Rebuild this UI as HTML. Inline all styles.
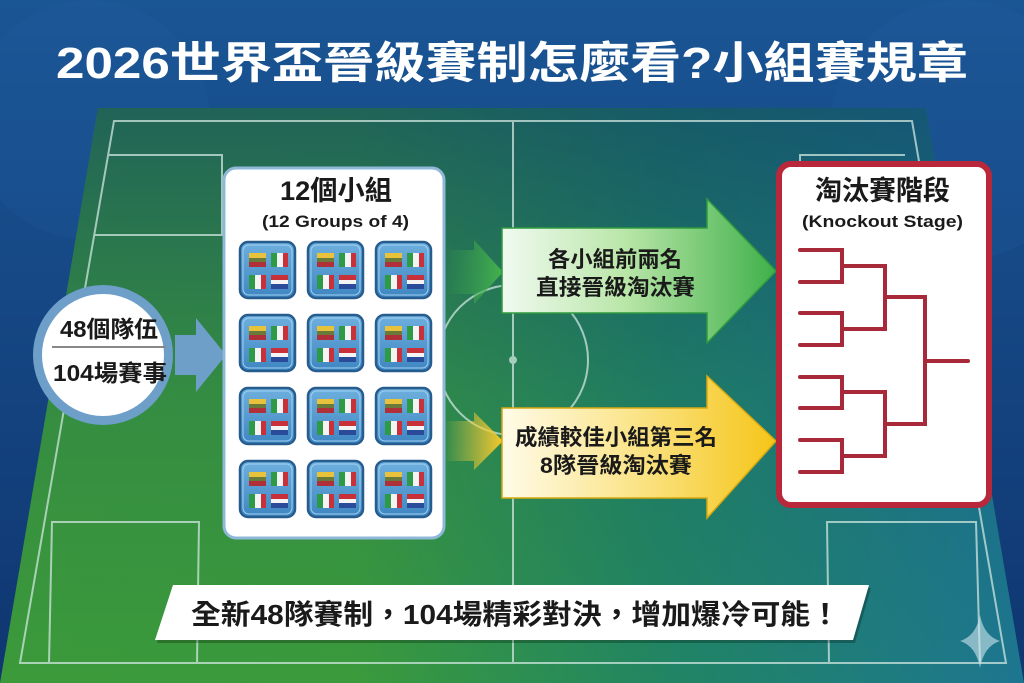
<!DOCTYPE html>
<html><head><meta charset="utf-8">
<style>
html,body{margin:0;padding:0;width:1024px;height:683px;overflow:hidden;background:#14437f}
svg{display:block}
text{font-family:"Liberation Sans","Noto Sans CJK TC",sans-serif;font-weight:bold}
</style></head>
<body>
<svg width="1024" height="683" viewBox="0 0 1024 683" xmlns="http://www.w3.org/2000/svg">
<defs>
<linearGradient id="bg" x1="0" y1="0" x2="0" y2="1">
<stop offset="0" stop-color="#1a5594"/><stop offset="1" stop-color="#0f3670"/></linearGradient>
<linearGradient id="pitchH" x1="0" y1="0" x2="1" y2="0">
<stop offset="0" stop-color="#3c9a3a"/><stop offset="0.35" stop-color="#3a9a3c"/><stop offset="0.65" stop-color="#218563"/><stop offset="1" stop-color="#1d7690"/></linearGradient>
<linearGradient id="pitchV" x1="0" y1="0" x2="0" y2="1">
<stop offset="0" stop-color="#0f3f6a" stop-opacity="0.6"/><stop offset="0.5" stop-color="#0f3f6a" stop-opacity="0.15"/><stop offset="1" stop-color="#0f3f6a" stop-opacity="0"/></linearGradient>
<linearGradient id="green" x1="0" y1="0" x2="1" y2="0">
<stop offset="0" stop-color="#f0faf0"/><stop offset="0.45" stop-color="#b9e6a8"/><stop offset="1" stop-color="#3fb04a"/></linearGradient>
<linearGradient id="greenS" x1="0" y1="0" x2="1" y2="0">
<stop offset="0" stop-color="#3aa548" stop-opacity="0"/><stop offset="1" stop-color="#45b24e"/></linearGradient>
<linearGradient id="yellow" x1="0" y1="0" x2="1" y2="0">
<stop offset="0" stop-color="#fffbe8"/><stop offset="0.45" stop-color="#fbe690"/><stop offset="1" stop-color="#f5c518"/></linearGradient>
<linearGradient id="yellowS" x1="0" y1="0" x2="1" y2="0">
<stop offset="0" stop-color="#f4d040" stop-opacity="0"/><stop offset="1" stop-color="#f5c82a"/></linearGradient>
<linearGradient id="tileg" x1="0" y1="0" x2="0" y2="1">
<stop offset="0" stop-color="#6eb0de"/><stop offset="1" stop-color="#3f86c2"/></linearGradient>
<g id="tile">
<rect x="0" y="0" width="55" height="56" rx="8" fill="url(#tileg)" stroke="#275c8e" stroke-width="2.5"/>
<rect x="3" y="3" width="49" height="50" rx="6" fill="none" stroke="#9fd0f0" stroke-width="1"/>
<g transform="translate(9,11)"><rect width="17" height="5" fill="#e8c23a"/><rect y="5" width="17" height="4" fill="#6a7a3a"/><rect y="9" width="17" height="5" fill="#b0303a"/></g>
<g transform="translate(31,11)"><rect width="6" height="14" fill="#2f9a46"/><rect x="6" width="6" height="14" fill="#f4f4f4"/><rect x="12" width="5" height="14" fill="#c8303a"/></g>
<g transform="translate(9,33)"><rect width="6" height="14" fill="#2f9a46"/><rect x="6" width="6" height="14" fill="#f4f4f4"/><rect x="12" width="5" height="14" fill="#c8303a"/></g>
<g transform="translate(31,33)"><rect width="17" height="5" fill="#c8303a"/><rect y="5" width="17" height="4" fill="#f4f4f4"/><rect y="9" width="17" height="5" fill="#2a4a9a"/></g>
</g>
</defs>
<rect width="1024" height="683" fill="url(#bg)"/>
<circle cx="90" cy="120" r="120" fill="#2a66a5" opacity="0.15"/>
<circle cx="960" cy="130" r="130" fill="#2a66a5" opacity="0.15"/>
<polygon points="98,108 926,108 1024,683 0,683" fill="url(#pitchH)"/>
<polygon points="98,108 926,108 1024,683 0,683" fill="url(#pitchV)"/>
<g fill="none" stroke="#cfe6df" stroke-width="2" opacity="0.75">
<polygon points="114,121 912,121 1006,663 20,663"/>
<line x1="513" y1="121" x2="513" y2="663"/>
<circle cx="513" cy="360" r="75"/>
<circle cx="513" cy="360" r="3" fill="#cfe6df"/>
<polyline points="108,155 222,155 222,235 95,235"/>
<polyline points="905,155 800,155 800,235 920,235"/>
<polyline points="49,663 52,522 199,522 197,663"/>
<polyline points="980,663 976,522 827,522 829,663"/>
</g>
<text x="56" y="78" font-size="44" fill="#fff" textLength="912" lengthAdjust="spacingAndGlyphs">2026世界盃晉級賽制怎麼看?小組賽規章</text>
<polygon points="175,335 196,335 196,318 226,355 196,392 196,375 175,375" fill="#6d9fc9"/>
<circle cx="103" cy="355" r="70" fill="#6d9fc9"/>
<circle cx="103" cy="355" r="61" fill="#fff"/>
<text x="60" y="337" font-size="23" fill="#1a1a1a" textLength="98" lengthAdjust="spacingAndGlyphs">48個隊伍</text>
<line x1="52" y1="347" x2="166" y2="347" stroke="#888" stroke-width="2"/>
<text x="53" y="381" font-size="23" fill="#1a1a1a" textLength="114" lengthAdjust="spacingAndGlyphs">104場賽事</text>
<rect x="224" y="168" width="220" height="370" rx="12" fill="#fff" stroke="#8fb8d8" stroke-width="3"/>
<text x="280" y="200" font-size="27" fill="#1a1a1a" textLength="112" lengthAdjust="spacingAndGlyphs">12個小組</text>
<text x="262" y="227" font-size="17" fill="#1a1a1a" textLength="147" lengthAdjust="spacingAndGlyphs">(12 Groups of 4)</text>
<g>
<use href="#tile" x="240" y="242"/><use href="#tile" x="308" y="242"/><use href="#tile" x="376" y="242"/>
<use href="#tile" x="240" y="315"/><use href="#tile" x="308" y="315"/><use href="#tile" x="376" y="315"/>
<use href="#tile" x="240" y="388"/><use href="#tile" x="308" y="388"/><use href="#tile" x="376" y="388"/>
<use href="#tile" x="240" y="461"/><use href="#tile" x="308" y="461"/><use href="#tile" x="376" y="461"/>
</g>
<polygon points="444,250 474,250 474,240 503,272 474,304 474,294 444,294" fill="url(#greenS)"/>
<polygon points="502,228 707,228 707,199 776,271 707,343 707,313 502,313" fill="url(#green)" stroke="#2f9a3e" stroke-width="1.5"/>
<text x="548" y="267" font-size="22" fill="#1a1a1a" textLength="134" lengthAdjust="spacingAndGlyphs">各小組前兩名</text>
<text x="536" y="295" font-size="22" fill="#1a1a1a" textLength="159" lengthAdjust="spacingAndGlyphs">直接晉級淘汰賽</text>
<polygon points="444,421 474,421 474,412 503,441 474,470 474,461 444,461" fill="url(#yellowS)"/>
<polygon points="502,408 707,408 707,376 776,441 707,518 707,498 502,498" fill="url(#yellow)" stroke="#d8a810" stroke-width="1.5"/>
<text x="515" y="445" font-size="22" fill="#1a1a1a" textLength="202" lengthAdjust="spacingAndGlyphs">成績較佳小組第三名</text>
<text x="540" y="473" font-size="22" fill="#1a1a1a" textLength="152" lengthAdjust="spacingAndGlyphs">8隊晉級淘汰賽</text>
<rect x="779" y="164" width="210" height="341" rx="12" fill="#fff" stroke="#b8283a" stroke-width="6"/>
<text x="815" y="200" font-size="27" fill="#1a1a1a" textLength="135" lengthAdjust="spacingAndGlyphs">淘汰賽階段</text>
<text x="802" y="227" font-size="17" fill="#1a1a1a" textLength="161" lengthAdjust="spacingAndGlyphs">(Knockout Stage)</text>
<g fill="none" stroke="#a82a3a" stroke-width="4" stroke-linecap="round">
<polyline points="800,250 842,250 842,282 800,282"/>
<polyline points="800,313 842,313 842,345 800,345"/>
<polyline points="800,377 842,377 842,408 800,408"/>
<polyline points="800,440 842,440 842,472 800,472"/>
<polyline points="842,266 885,266 885,329 842,329"/>
<polyline points="842,392 885,392 885,456 842,456"/>
<polyline points="885,297 925,297 925,424 885,424"/>
<line x1="925" y1="361" x2="968" y2="361"/>
</g>
<polygon points="173,585 869,585 853,640 155,640" fill="#000" opacity="0.25" transform="translate(2,3)"/>
<polygon points="173,585 869,585 853,640 155,640" fill="#fff"/>
<text x="191" y="624" font-size="28" fill="#1a1a1a" textLength="649" lengthAdjust="spacingAndGlyphs">全新48隊賽制，104場精彩對決，增加爆冷可能！</text>
<path d="M980,615 Q984,636 1000,641 Q984,646 980,668 Q976,646 960,641 Q976,636 980,615 Z" fill="#cfe6ee" opacity="0.6"/>
</svg>
</body></html>
